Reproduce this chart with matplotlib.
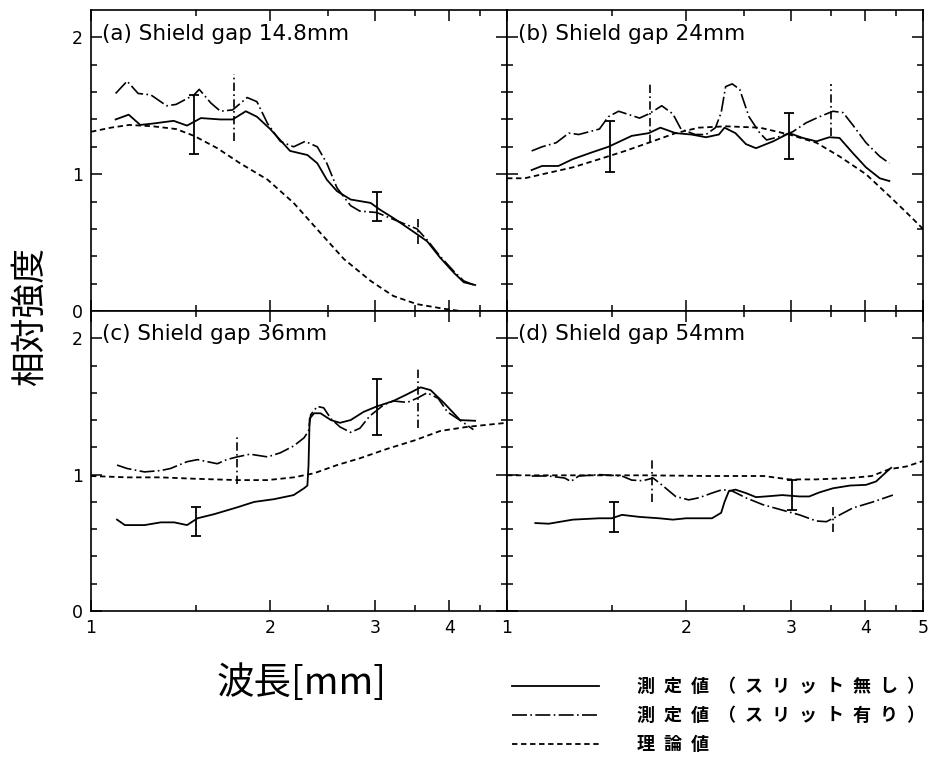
import numpy as np
import matplotlib
matplotlib.use('Agg')
import matplotlib.pyplot as plt
from matplotlib.ticker import NullFormatter

# (a) Shield gap 14.8mm
a_x_noslit = [1.10, 1.157, 1.21, 1.27, 1.377, 1.45, 1.53, 1.65, 1.73, 1.82, 1.90, 2.0, 2.16, 2.31,
              2.40, 2.49, 2.59, 2.73, 2.95, 3.06, 3.22, 3.48, 3.67, 3.86, 4.07, 4.23, 4.42]
a_noslit = [1.40, 1.435, 1.36, 1.37, 1.39, 1.355, 1.41, 1.40, 1.40, 1.46, 1.42, 1.33, 1.17, 1.14,
            1.08, 0.96, 0.876, 0.815, 0.79, 0.74, 0.68, 0.58, 0.51, 0.39, 0.28, 0.21, 0.19]
a_x_slit = [1.10, 1.15, 1.20, 1.26, 1.34, 1.39, 1.49, 1.52, 1.59, 1.65, 1.73, 1.83, 1.90, 1.98,
            2.08, 2.19, 2.29, 2.40, 2.49, 2.59, 2.73, 2.83, 3.02, 3.22, 3.53, 3.67, 3.86, 4.07, 4.23, 4.40]
a_slit = [1.59, 1.68, 1.59, 1.58, 1.50, 1.51, 1.58, 1.62, 1.52, 1.46, 1.47, 1.56, 1.53, 1.37,
          1.24, 1.20, 1.24, 1.20, 1.08, 0.90, 0.77, 0.73, 0.72, 0.67, 0.60, 0.52, 0.40, 0.29, 0.22, 0.19]
a_x_theory = [1.0, 1.08, 1.16, 1.27, 1.39, 1.49, 1.63, 1.78, 1.98, 2.19, 2.43, 2.66, 2.95, 3.22,
              3.53, 3.91, 4.17]
a_theory = [1.31, 1.34, 1.36, 1.35, 1.33, 1.28, 1.19, 1.08, 0.96, 0.79, 0.57, 0.38, 0.22, 0.11,
            0.05, 0.017, 0.0]
a_err_x = [1.49, 3.02]
a_err_lo = [1.15, 0.66]
a_err_hi = [1.58, 0.87]
a_serr_x = [1.74, 3.54]
a_serr_lo = [1.24, 0.49]
a_serr_hi = [1.73, 0.67]

# (b) Shield gap 24mm
b_x_noslit = [1.10, 1.145, 1.22, 1.29, 1.39, 1.48, 1.62, 1.73, 1.81, 1.92, 2.04, 2.16, 2.27, 2.32,
              2.42, 2.52, 2.62, 2.80, 2.98, 3.14, 3.31, 3.48, 3.62, 3.81, 4.01, 4.23, 4.39]
b_noslit = [1.03, 1.06, 1.06, 1.11, 1.16, 1.20, 1.28, 1.30, 1.34, 1.30, 1.29, 1.27, 1.29, 1.34,
            1.30, 1.22, 1.19, 1.24, 1.30, 1.265, 1.24, 1.27, 1.265, 1.155, 1.05, 0.97, 0.95]
b_x_slit = [1.10, 1.145, 1.21, 1.27, 1.32, 1.43, 1.48, 1.54, 1.67, 1.73, 1.82, 1.90, 1.96, 2.07,
            2.16, 2.24, 2.29, 2.33, 2.39, 2.46, 2.55, 2.66, 2.73, 2.90, 3.02, 3.18, 3.35, 3.53,
            3.67, 3.81, 4.01, 4.23, 4.39]
b_slit = [1.17, 1.20, 1.23, 1.30, 1.29, 1.33, 1.42, 1.46, 1.41, 1.44, 1.50, 1.44, 1.33, 1.29,
          1.29, 1.34, 1.45, 1.64, 1.66, 1.62, 1.42, 1.30, 1.25, 1.28, 1.31, 1.375, 1.42, 1.46,
          1.45, 1.36, 1.23, 1.13, 1.08]
b_x_theory = [1.0, 1.07, 1.175, 1.29, 1.43, 1.58, 1.73, 1.92, 2.10, 2.33, 2.66, 2.98, 3.31, 3.62,
              4.01, 4.39, 4.69, 5.0]
b_theory = [0.97, 0.97, 1.01, 1.05, 1.11, 1.17, 1.23, 1.30, 1.34, 1.35, 1.34, 1.29, 1.23, 1.13,
            1.00, 0.84, 0.72, 0.60]
b_err_x = [1.49, 2.98]
b_err_lo = [1.015, 1.11]
b_err_hi = [1.39, 1.45]
b_serr_x = [1.74, 3.50]
b_serr_lo = [1.23, 1.28]
b_serr_hi = [1.66, 1.66]

# (c) Shield gap 36mm
c_x_noslit = [1.106, 1.14, 1.23, 1.31, 1.38, 1.45, 1.51, 1.61, 1.76, 1.88, 2.03, 2.19, 2.28, 2.31,
              2.32, 2.33, 2.37, 2.43, 2.53, 2.62, 2.73, 2.87, 3.02, 3.22, 3.40, 3.58, 3.72, 3.92,
              4.17, 4.42]
c_noslit = [0.67, 0.63, 0.63, 0.65, 0.65, 0.63, 0.68, 0.71, 0.76, 0.80, 0.82, 0.85, 0.90, 0.92,
            1.07, 1.41, 1.45, 1.45, 1.40, 1.38, 1.40, 1.46, 1.50, 1.54, 1.59, 1.64, 1.62, 1.525,
            1.40, 1.395]
c_x_slit = [1.106, 1.15, 1.23, 1.31, 1.36, 1.45, 1.51, 1.63, 1.69, 1.76, 1.85, 1.98, 2.08, 2.19,
            2.28, 2.32, 2.34, 2.40, 2.46, 2.53, 2.62, 2.73, 2.83, 2.94, 3.10, 3.22, 3.40, 3.53,
            3.67, 3.83, 3.97, 4.23, 4.39]
c_slit = [1.07, 1.045, 1.02, 1.03, 1.045, 1.095, 1.11, 1.08, 1.11, 1.13, 1.15, 1.13, 1.16, 1.21,
          1.27, 1.32, 1.44, 1.50, 1.49, 1.41, 1.35, 1.31, 1.34, 1.43, 1.51, 1.54, 1.53, 1.56,
          1.60, 1.56, 1.46, 1.38, 1.33]
c_x_theory = [1.0, 1.15, 1.31, 1.49, 1.76, 1.98, 2.19, 2.37, 2.59, 2.83, 3.15, 3.49, 3.86, 4.28,
              4.74, 5.0]
c_theory = [0.99, 0.98, 0.98, 0.97, 0.96, 0.96, 0.98, 1.01, 1.07, 1.12, 1.19, 1.25, 1.32, 1.35,
            1.37, 1.38]
c_err_x = [1.50, 3.02]
c_err_lo = [0.55, 1.29]
c_err_hi = [0.76, 1.70]
c_serr_x = [1.76, 3.54]
c_serr_lo = [0.93, 1.34]
c_serr_hi = [1.30, 1.78]

# (d) Shield gap 54mm
d_x_noslit = [1.116, 1.175, 1.29, 1.43, 1.50, 1.56, 1.67, 1.80, 1.90, 2.0, 2.21, 2.29, 2.32, 2.36,
              2.42, 2.52, 2.62, 2.72, 2.90, 3.10, 3.22, 3.35, 3.53, 3.77, 4.01, 4.17, 4.34, 4.42]
d_noslit = [0.645, 0.64, 0.67, 0.68, 0.68, 0.705, 0.69, 0.68, 0.67, 0.68, 0.68, 0.72, 0.80, 0.88,
            0.89, 0.865, 0.835, 0.84, 0.85, 0.84, 0.84, 0.87, 0.90, 0.92, 0.925, 0.95, 1.02, 1.05]
d_x_slit = [1.10, 1.175, 1.25, 1.28, 1.32, 1.43, 1.56, 1.62, 1.69, 1.76, 1.82, 1.92, 2.02, 2.10,
            2.21, 2.30, 2.39, 2.52, 2.69, 2.90, 3.10, 3.31, 3.44, 3.57, 3.81, 4.12, 4.45]
d_slit = [0.99, 0.99, 0.975, 0.95, 0.99, 1.00, 0.99, 0.96, 0.955, 0.975, 0.925, 0.84, 0.815, 0.83,
          0.865, 0.89, 0.88, 0.83, 0.78, 0.74, 0.705, 0.66, 0.655, 0.69, 0.755, 0.80, 0.85]
d_x_theory = [1.0, 1.3, 1.7, 2.2, 2.7, 2.98, 3.3, 3.77, 4.1, 4.39, 4.69, 5.0]
d_theory = [0.995, 0.995, 0.995, 0.99, 0.99, 0.965, 0.965, 0.975, 0.99, 1.04, 1.06, 1.10]
d_err_x = [1.51, 3.01]
d_err_lo = [0.576, 0.74]
d_err_hi = [0.80, 0.96]
d_serr_x = [1.75, 3.53]
d_serr_lo = [0.80, 0.58]
d_serr_hi = [1.11, 0.77]

titles = ['(a) Shield gap 14.8mm', '(b) Shield gap 24mm', '(c) Shield gap 36mm', '(d) Shield gap 54mm']
legend_labels = ['測定値（スリット無し）', '測定値（スリット有り）', '理論値']

panels = [
    (a_x_noslit, a_noslit, a_x_slit, a_slit, a_x_theory, a_theory,
     a_err_x, a_err_lo, a_err_hi, a_serr_x, a_serr_lo, a_serr_hi),
    (b_x_noslit, b_noslit, b_x_slit, b_slit, b_x_theory, b_theory,
     b_err_x, b_err_lo, b_err_hi, b_serr_x, b_serr_lo, b_serr_hi),
    (c_x_noslit, c_noslit, c_x_slit, c_slit, c_x_theory, c_theory,
     c_err_x, c_err_lo, c_err_hi, c_serr_x, c_serr_lo, c_serr_hi),
    (d_x_noslit, d_noslit, d_x_slit, d_slit, d_x_theory, d_theory,
     d_err_x, d_err_lo, d_err_hi, d_serr_x, d_serr_lo, d_serr_hi),
]

cjk = ['Noto Sans CJK JP', 'DejaVu Sans']
slit_style = (0, (9, 2, 1, 2))
theory_style = (0, (3, 2))

fig = plt.figure(figsize=(9.32, 7.63), dpi=100)
W, H = 932, 763
rects = [(91, 10, 416, 301), (507, 10, 416, 301), (91, 311, 416, 300), (507, 311, 416, 300)]

handles = None
for i, (rect, p) in enumerate(zip(rects, panels)):
    x0, y0, w, h = rect
    ax = fig.add_axes([x0 / W, 1 - (y0 + h) / H, w / W, h / H])
    (xn, yn, xs, ys, xt, yt, ex, elo, ehi, sx, slo, shi) = p
    l1, = ax.plot(xn, yn, color='k', lw=1.3, ls='-')
    l2, = ax.plot(xs, ys, color='k', lw=1.2, ls=slit_style)
    l3, = ax.plot(xt, yt, color='k', lw=1.3, ls=theory_style)
    ex = np.array(ex); elo = np.array(elo); ehi = np.array(ehi)
    mid = (elo + ehi) / 2
    ax.errorbar(ex, mid, yerr=(ehi - elo) / 2, fmt='none', ecolor='k', elinewidth=1.3, capsize=3.5,
                capthick=1.3)
    ax.vlines(sx, slo, shi, colors='k', linestyles=(0, (5, 2, 1, 2)), lw=1.2)
    if handles is None:
        handles = [l1, l2, l3]

    ax.set_xscale('log')
    ax.set_xlim(1, 5)
    ax.set_ylim(0, 2.2)
    xlabs = ['1', '2', '3', '4', '5'] if i % 2 == 1 else ['1', '2', '3', '4', '']
    ax.set_xticks([1, 2, 3, 4, 5], xlabs)
    ax.set_xticks([1.5, 2.5, 3.5, 4.5], minor=True)
    ax.xaxis.set_minor_formatter(NullFormatter())
    ax.set_yticks([0, 1, 2], ['0', '1', '2'])
    ax.set_yticks([0.2, 0.4, 0.6, 0.8, 1.2, 1.4, 1.6, 1.8], minor=True)
    ax.tick_params(which='both', direction='in', top=True, right=True, width=1.1,
                   labelsize=12.5, pad=6)
    ax.tick_params(which='major', length=8)
    ax.tick_params(which='minor', length=4.5)
    if i < 2:
        ax.tick_params(labelbottom=False)
    if i % 2 == 1:
        ax.tick_params(labelleft=False)
    for s in ax.spines.values():
        s.set_linewidth(1.2)
    ax.text(0.027, 0.955, titles[i], transform=ax.transAxes, va='top', ha='left',
            fontsize=15.5, family='DejaVu Sans')

fig.text(30 / W, 1 - 316 / H, '相対強度', rotation=90, fontsize=25, family=cjk,
         ha='center', va='center')
fig.text(302 / W, 1 - 684 / H, '波長[mm]', fontsize=27, family=cjk, ha='center', va='center')

# spread the legend characters out like the original print
spaced = ['\u2002'.join(lab) for lab in legend_labels]
fig.legend(handles, spaced, loc='upper left', bbox_to_anchor=(512 / W, 1 - 677 / H),
           frameon=False, handlelength=4.8, handletextpad=2.1, labelspacing=0.55,
           borderpad=0, borderaxespad=0,
           prop={'family': cjk, 'size': 13, 'weight': 'bold'})

fig.savefig('out.png', dpi=100)
